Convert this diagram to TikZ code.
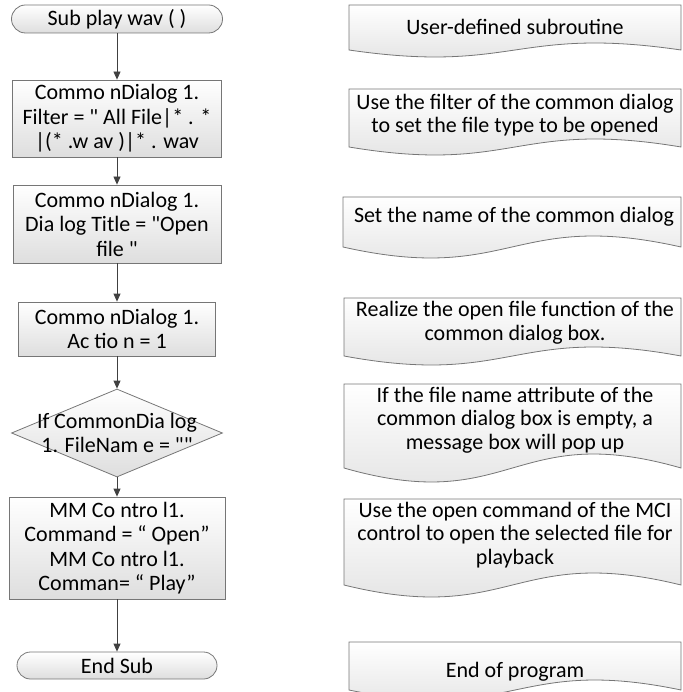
\documentclass[tikz,border=0pt]{standalone}
\usepackage{fontspec}
\newfontfamily\calfont{Carlito}
\usetikzlibrary{shapes.geometric,arrows.meta}
\definecolor{bordergray}{RGB}{118,118,118}
\definecolor{fillgray}{RGB}{222,222,222}
\definecolor{arrowgray}{RGB}{64,64,64}
\newcommand\docpath[5]{%
  \path[docshape] (#1,#2) -- (#3,#2) -- (#3,#4)
    .. controls ({(#1+#3)/2},{#4-#5/0.289}) and ({(#1+#3)/2},{#4+#5/0.289}) .. (#1,#4) -- cycle;}
\begin{document}
\begin{tikzpicture}[x=1pt,y=-1pt,
  box/.style={draw=bordergray, line width=0.8pt, top color=white, bottom color=fillgray,
    font=\calfont\fontsize{22}{24.5}\selectfont, align=center, inner sep=0pt},
  procbox/.style={box, rectangle},
  termbox/.style={box, rectangle, rounded corners=14pt},
  decbox/.style={box, diamond},
  docshape/.style={draw=bordergray, line width=0.8pt, top color=white, bottom color=fillgray},
  doctext/.style={font=\calfont\fontsize{22}{23.5}\selectfont, align=center, inner sep=0pt},
  txt/.style={font=\calfont\fontsize{22}{24.5}\selectfont, align=center, inner sep=0pt},
  arr/.style={draw=arrowgray, line width=0.8pt, -{Triangle[length=8pt,width=7pt]}}]
\useasboundingbox (0,0) rectangle (682,692);

% left column
\node[termbox, minimum width=211pt, minimum height=28pt] (start) at (117,19) {Sub play wav ( )};
\node[procbox, minimum width=209pt, minimum height=77pt] (b1) at (117,118.5)
  {Commo nDialog 1.\\Filter = " All File|* . *\\|(* .w av )|* . wav};
\node[procbox, minimum width=208pt, minimum height=78pt] (b2) at (117,224)
  {Commo nDialog 1.\\Dia log Title = "Open\\file "};
\node[procbox, minimum width=197pt, minimum height=54pt] (b3) at (117,329)
  {Commo nDialog 1.\\Ac tio n = 1};
\node[decbox, minimum width=211pt, minimum height=88pt] (d1) at (117,433) {};
\node[txt] (d1t) at (117,433) {If CommonDia log\\1. FileNam e = ""};
\node[procbox, minimum width=216pt, minimum height=102pt] (b4) at (117,548)
  {MM Co ntro l1.\\Command = “ Open”\\MM Co ntro l1.\\Comman= “ Play”};
\node[termbox, minimum width=200pt, minimum height=27pt, rounded corners=13.5pt] (stop) at (117,665.5) {End Sub};

\draw[arr] (start) -- (b1);
\draw[arr] (b1) -- (b2);
\draw[arr] (b2) -- (b3);
\draw[arr] (b3) -- (d1);
\draw[arr] (d1) -- (b4);
\draw[arr] (b4) -- (stop);

% right column
\docpath{349}{5}{681}{50}{7}
\docpath{349}{89}{681}{147}{8}
\docpath{343}{197}{681}{247}{11}
\docpath{344}{298}{681}{356}{9}
\docpath{344}{384}{681}{468}{14}
\docpath{344}{499}{681}{585}{12}
\docpath{349}{642}{681}{690}{10}

\node[doctext] (n1) at (515,27) {User-defined subroutine};
\node[doctext] (n2) at (515,115) {Use the filter of the common dialog\\to set the file type to be opened};
\node[doctext] (n3) at (514,217) {Set the name of the common dialog};
\node[doctext] (n4) at (515,323) {Realize the open file function of the\\common dialog box.};
\node[doctext] (n5) at (515,420) {If the file name attribute of the\\common dialog box is empty, a\\message box will pop up};
\node[doctext] (n6) at (515,535) {Use the open command of the MCI\\control to open the selected file for\\playback};
\node[doctext] (n7) at (515,672) {End of program};
\end{tikzpicture}
\end{document}
